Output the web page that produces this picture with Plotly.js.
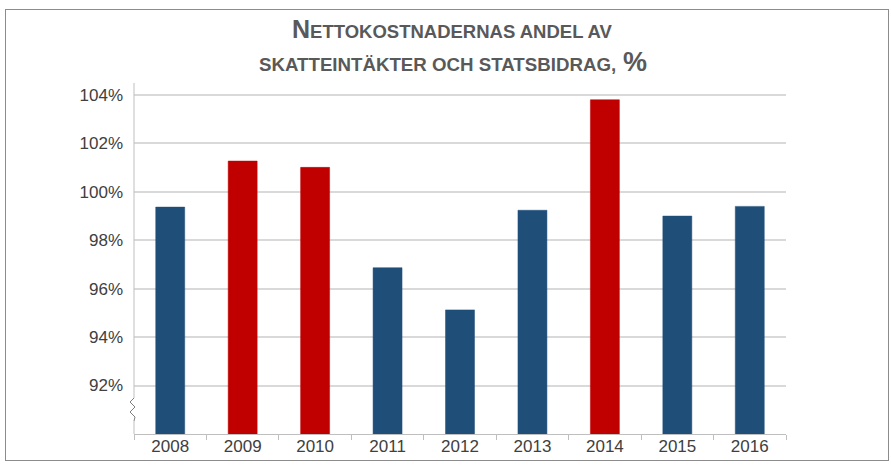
<!DOCTYPE html>
<html>
<head>
<meta charset="utf-8">
<script src="https://cdn.plot.ly/plotly-3.0.1.min.js"></script>
<style>
  body { margin: 0; background: #ffffff; }
  #wrap { position: relative; width: 891px; height: 465px; }
  #chart { width: 891px; height: 465px; }
  #frame {
    position: absolute; left: 5px; top: 9px; width: 882px; height: 450px;
    border: 1.5px solid #8c8c8c; pointer-events: none;
  }
</style>
</head>
<body>
<div id="wrap">
  <div id="chart"></div>
  <div id="frame"></div>
</div>
<script>
const years = ["2008", "2009", "2010", "2011", "2012", "2013", "2014", "2015", "2016"];
const shares = [99.36, 101.26, 101.0, 96.86, 95.12, 99.23, 103.79, 98.99, 99.39];
const yTicks = [92, 94, 96, 98, 100, 102, 104];

const W = 891, H = 465;
const margin = { l: 134, r: 105, t: 83, b: 31 };
const plotW = W - margin.l - margin.r;
const plotH = H - margin.t - margin.b;

// pixel -> paper helpers, for the decoration only
const px = (x) => (x - margin.l) / plotW;
const py = (y) => (H - margin.b - y) / plotH;

function axisGray() {
  return "#bfbfbf";
}

const barColors = shares.map((v) => (v > 100 ? "#c00000" : "#1f4e79"));

const trace = {
  x: years,
  y: shares,
  type: "bar",
  marker: { color: barColors, line: { color: barColors, width: 0.5 } },
  hoverinfo: "x+y",
};

// y axis line with a broken-axis zigzag near the bottom
const zig = "M " + px(134) + " " + py(398) +
  " L " + px(130) + " " + py(402) +
  " L " + px(135) + " " + py(407) +
  " L " + px(130) + " " + py(412) +
  " L " + px(135) + " " + py(417) +
  " L " + px(134) + " " + py(421);

const shapes = [
  { type: "line", xref: "paper", yref: "paper", x0: 0, x1: 0, y0: 1, y1: py(398),
    line: { color: axisGray(), width: 1 } },
  { type: "path", xref: "paper", yref: "paper", path: zig,
    line: { color: "#808080", width: 1 } },
  { type: "line", xref: "paper", yref: "paper", x0: 0, x1: 0, y0: py(421), y1: 0,
    line: { color: axisGray(), width: 1 } },
];

const titleFont = { family: "Liberation Sans, Arial, sans-serif", color: "#595959", size: 25 };
const annotations = [
  {
    xref: "paper", yref: "paper", x: px(452), y: py(29), showarrow: false,
    xanchor: "center", yanchor: "middle", font: titleFont,
    text: "<b>N<span style='font-size:18.5px'>ETTOKOSTNADERNAS ANDEL AV</span></b>",
  },
  {
    xref: "paper", yref: "paper", x: px(453), y: py(62), showarrow: false,
    xanchor: "center", yanchor: "middle", font: titleFont,
    text: "<b><span style='font-size:18.7px'>SKATTEINTÄKTER OCH STATSBIDRAG,</span> <span style='font-size:27px'>%</span></b>",
  },
];

const layout = {
  width: W,
  height: H,
  margin: margin,
  paper_bgcolor: "#ffffff",
  plot_bgcolor: "#ffffff",
  font: { family: "Liberation Sans, Arial, sans-serif", size: 17, color: "#404040" },
  bargap: 0.6,
  showlegend: false,
  xaxis: {
    type: "category",
    showline: true,
    linecolor: axisGray(),
    linewidth: 1,
    ticks: "outside",
    tickson: "boundaries",
    ticklen: 5,
    tickcolor: axisGray(),
    ticklabelstandoff: -3,
    showgrid: false,
    fixedrange: true,
  },
  yaxis: {
    range: [90, 104.48],
    tickvals: yTicks,
    ticktext: yTicks.map((v) => v + "%"),
    showline: false,
    showgrid: true,
    gridcolor: "#d9d9d9",
    gridwidth: 1.5,
    zeroline: false,
    ticks: "",
    ticklabelstandoff: 10,
    fixedrange: true,
  },
  shapes: shapes,
  annotations: annotations,
};

Plotly.newPlot("chart", [trace], layout, { displayModeBar: false, responsive: false });
</script>
</body>
</html>
